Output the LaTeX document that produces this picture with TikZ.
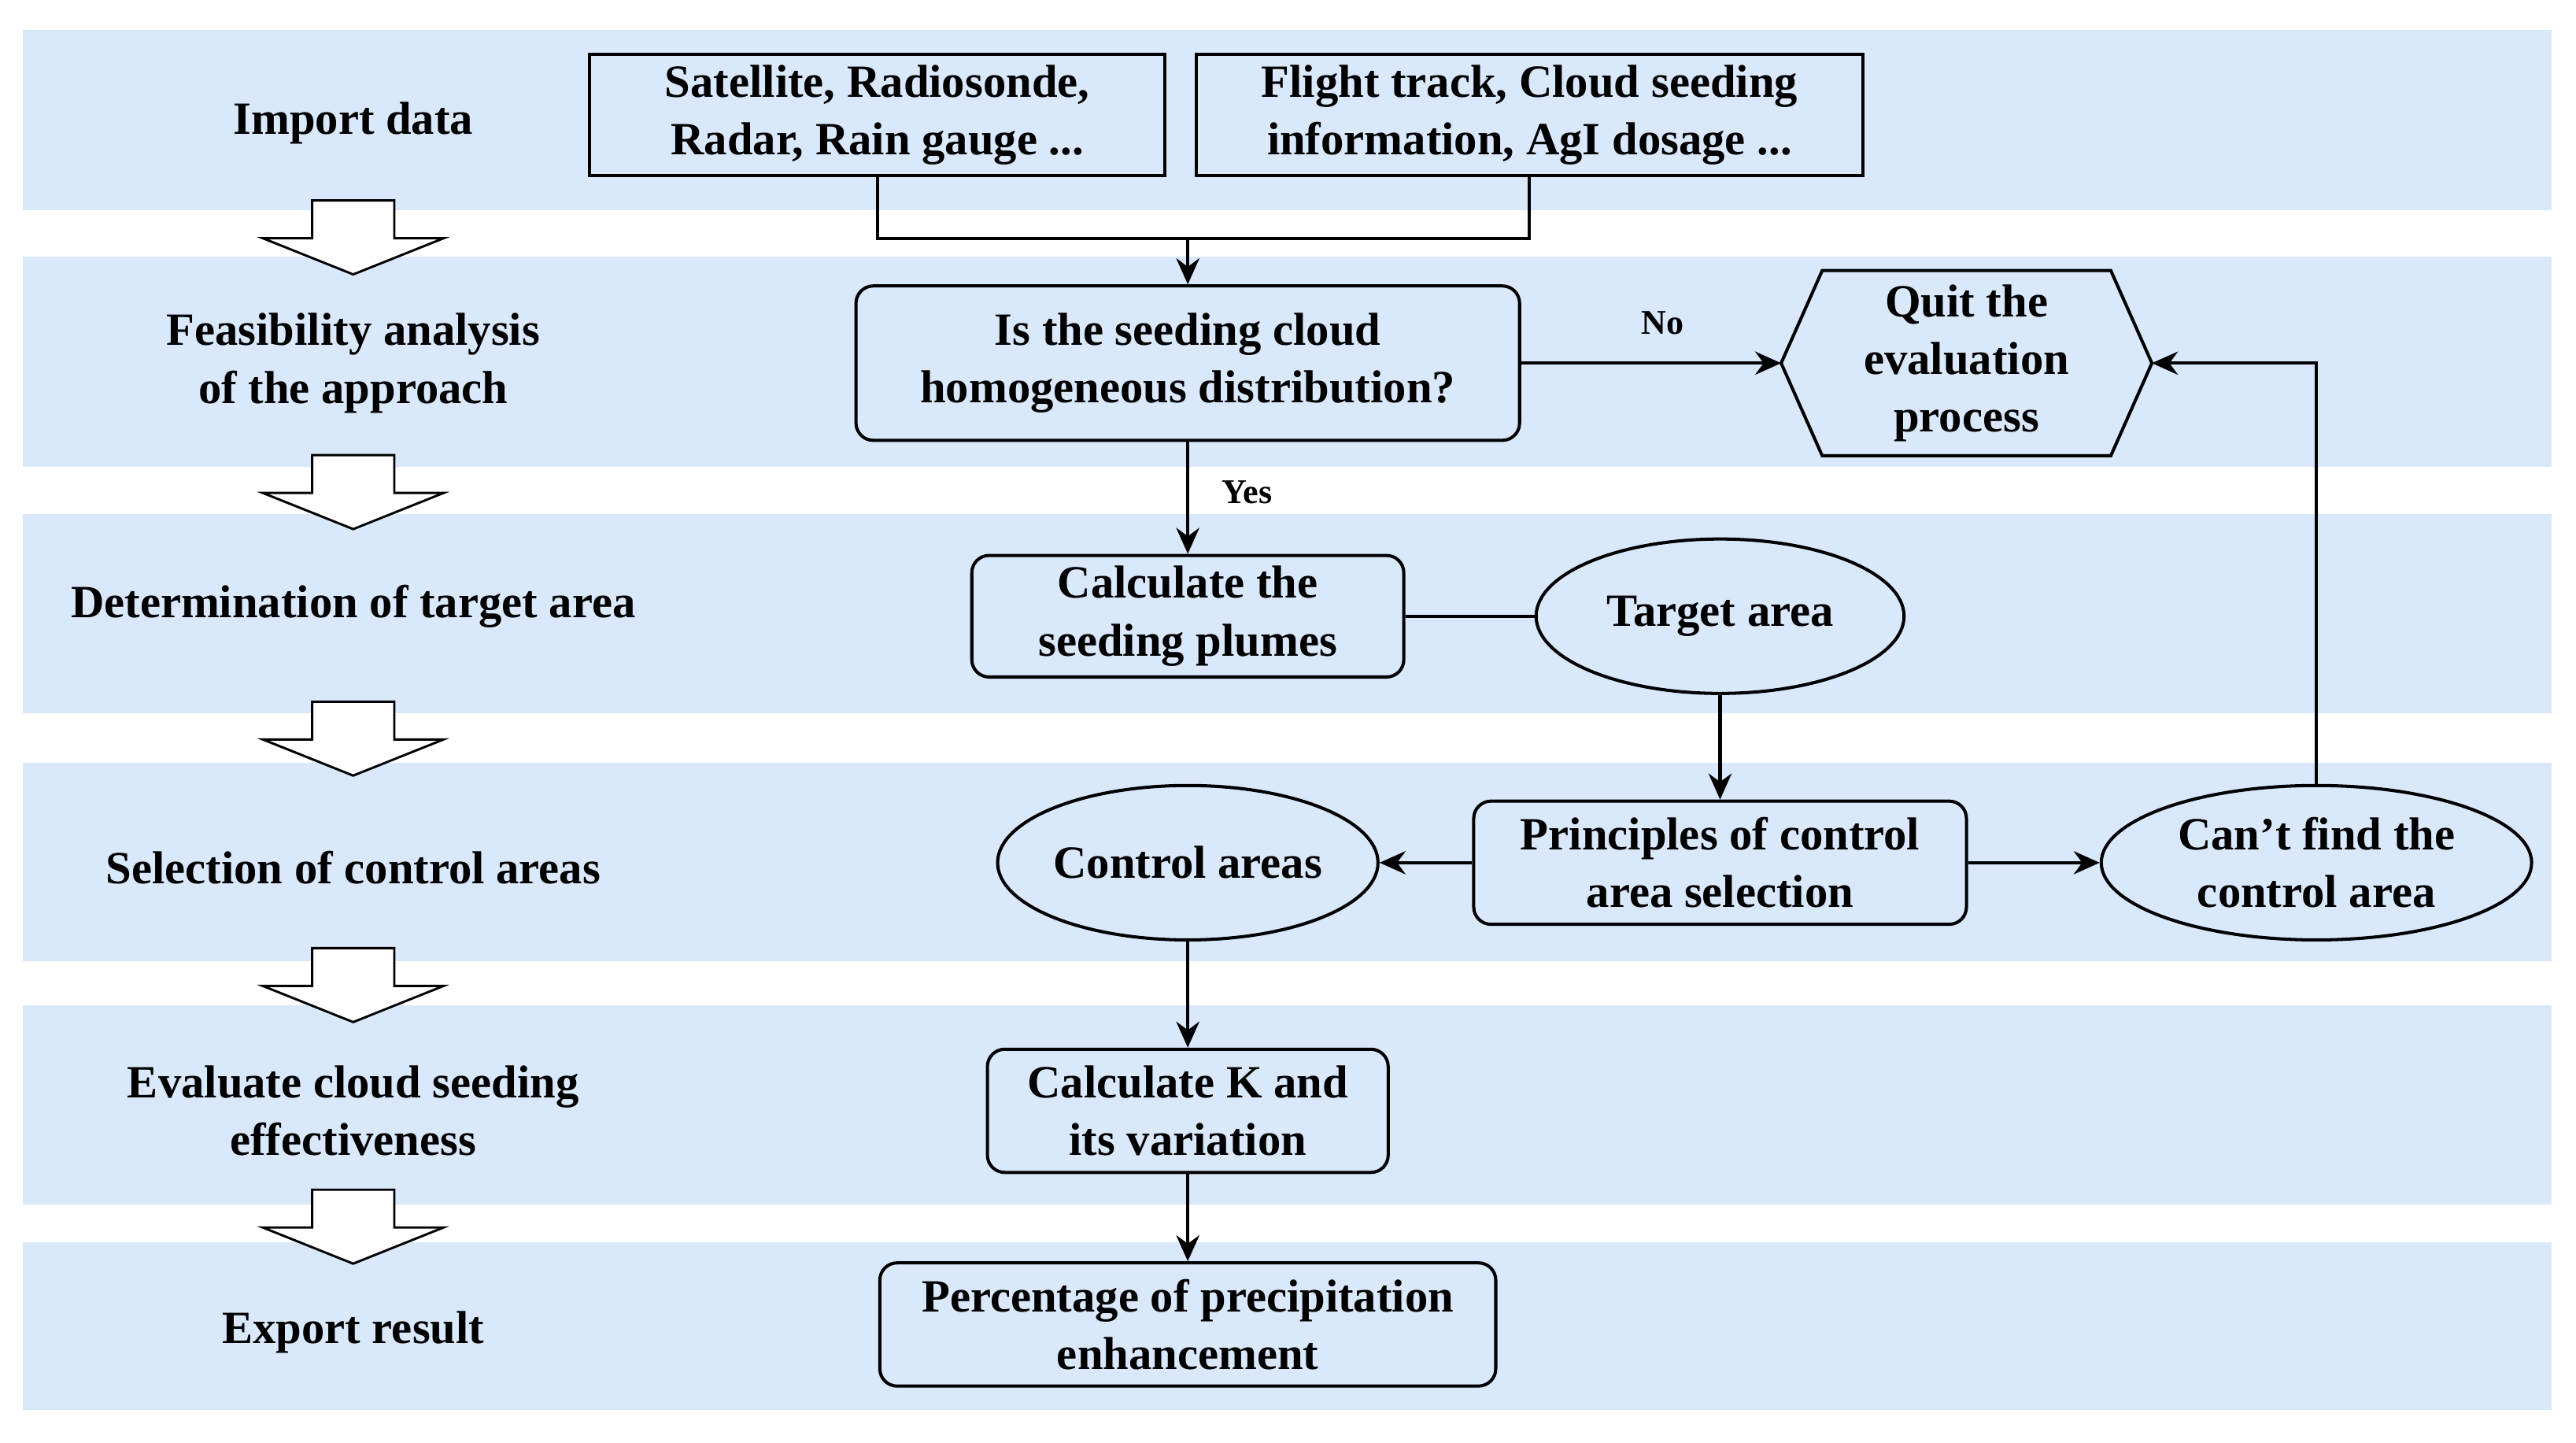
\documentclass[tikz,border=0pt]{standalone}
\usepackage{fontspec}
\setmainfont{Liberation Serif}
\usetikzlibrary{shapes.geometric,arrows.meta,positioning}
\definecolor{bandblue}{RGB}{218,232,252}
\begin{document}
\begin{tikzpicture}[
				x=0.02cm, y=-0.02cm,
				font=\fontsize{16}{20}\selectfont\bfseries,
				band/.style={
					fill=bandblue,
					draw=none
					},
				block/.style={
					rectangle,
					draw,
					line width=1.1pt,
					align=center,
					inner sep=2pt
					},
				round/.style={
					block,
					rounded corners=6pt
					},
				oval/.style={
					ellipse,
					draw,
					line width=1.1pt,
					align=center,
					inner sep=0pt
					},
				stagearrow/.style={
					draw,
					fill=white,
					line width=0.8pt
					},
				line/.style={
					draw,
					line width=1.1pt,
					-{Stealth[length=9pt,width=8pt]}
					}]
			    \useasboundingbox (0,0) rectangle (1568,878);
			    % Bands
			    \foreach \top/\bot in {18/128,156/284,313/434,464/585,612/733,756/858}
			    	\path [band] (14,\top) rectangle (1553,\bot);

			    % Stage labels
			    \node [align=center] (s1) at (215,75) {Import data};
			    \node [align=center] (s2) at (215,221) {Feasibility analysis\\of the approach};
			    \node [align=center] (s3) at (215,369) {Determination of target area};
			    \node [align=center] (s4) at (215,528) {Selection of control areas};
			    \node [align=center] (s5) at (215,676) {Evaluate cloud seeding\\effectiveness};
			    \node [align=center] (s6) at (215,811) {Export result};
			    \foreach \y in {122,277,427,577,724}
			    	\path [stagearrow] (190,\y) -- (240,\y) -- (240,\y+23) -- (270,\y+23)
			    		-- (215,\y+45) -- (160,\y+23) -- (190,\y+23) -- cycle;

			    % Place nodes
			    \node [block, minimum width=7cm, minimum height=1.48cm] (sat) at (534,70) {Satellite, Radiosonde,\\Radar, Rain gauge ...};
			    \node [block, minimum width=8.12cm, minimum height=1.48cm] (flight) at (931,70) {Flight track, Cloud seeding\\information, AgI dosage ...};
			    \node [round, minimum width=8.08cm, minimum height=1.88cm] (homog) at (723,221) {Is the seeding cloud\\homogeneous distribution?};
			    \node [align=center, minimum width=4.5cm, minimum height=2.24cm, inner sep=0pt] (quit) at (1197,221) {Quit the\\evaluation\\process};
			    \draw [line width=1.1pt] (quit.west) -- ([xshift=0.5cm]quit.north west) -- ([xshift=-0.5cm]quit.north east)
			    	-- (quit.east) -- ([xshift=-0.5cm]quit.south east) -- ([xshift=0.5cm]quit.south west) -- cycle;
			    \node [round, minimum width=5.26cm, minimum height=1.48cm] (plumes) at (723,375) {Calculate the\\seeding plumes};
			    \node [oval, minimum width=4.48cm, minimum height=1.88cm] (target) at (1047,375) {Target area};
			    \node [round, minimum width=6cm, minimum height=1.5cm] (princ) at (1047,525) {Principles of control\\area selection};
			    \node [oval, minimum width=4.48cm, minimum height=1.88cm] (control) at (723,525) {Control areas};
			    \node [oval, minimum width=5.24cm, minimum height=1.88cm] (cant) at (1410,525) {Can't find the\\control area};
			    \node [round, minimum width=4.88cm, minimum height=1.5cm] (calck) at (723,676) {Calculate K and\\its variation};
			    \node [round, minimum width=7.5cm, minimum height=1.5cm] (percent) at (723,806) {Percentage of precipitation\\enhancement};
			    \coordinate (join) at (723,145);

			    % Draw edges
			    \draw [line width=1.1pt] (sat.south) |- (join) -| (flight.south);
			    \path [line] (join) -- (homog);
			    \path [line] (homog) -- node [above, xshift=4pt, yshift=6pt, font=\fontsize{12}{14}\selectfont\bfseries] {No} (quit.west);
			    \path [line] (homog) -- node [right, xshift=8pt, yshift=2pt, font=\fontsize{12}{14}\selectfont\bfseries] {Yes} (plumes);
			    \draw [line width=1.1pt] (plumes) -- (target);
			    \path [line] (target) -- (princ);
			    \path [line] (princ) -- (control);
			    \path [line] (princ) -- (cant);
			    \path [line] (cant.north) |- (quit.east);
			    \path [line] (control) -- (calck);
			    \path [line] (calck) -- (percent);
			\end{tikzpicture}
\end{document}
